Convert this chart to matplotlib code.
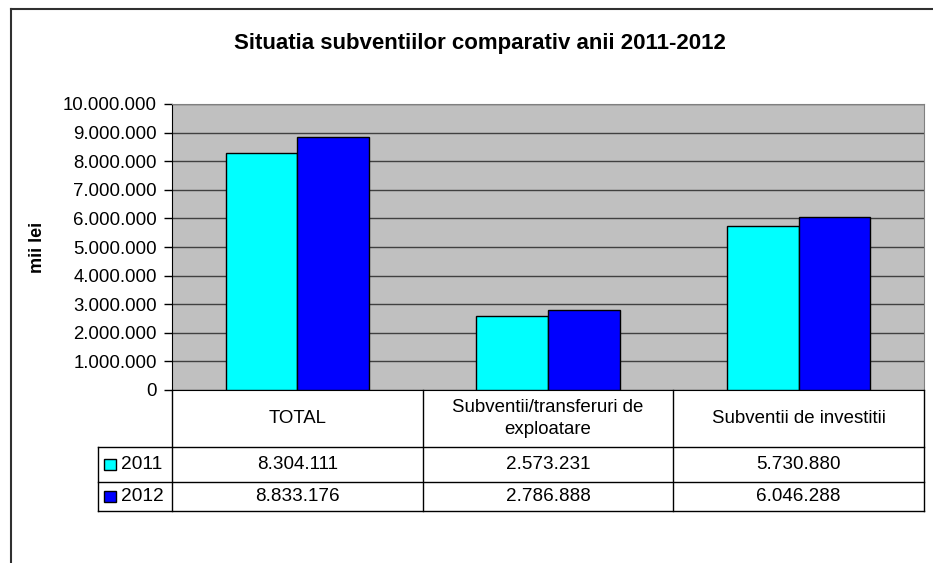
import matplotlib.pyplot as plt
from matplotlib.lines import Line2D
from matplotlib.patches import Rectangle

# Dati
categorii = ["TOTAL", "Subventii/transferuri de\nexploatare", "Subventii de investitii"]
ani = ["2011", "2012"]
val_2011 = [8304111, 2573231, 5730880]
val_2012 = [8833176, 2786888, 6046288]
culori = ["#00FFFF", "#0000FF"]
y_ticks = list(range(0, 10000001, 1000000))

plt.rcParams["font.family"] = ["Liberation Sans", "DejaVu Sans"]

W, H = 933, 563
fig = plt.figure(figsize=(W / 100, H / 100), dpi=100)


def fx(x):
    return x / W


def fy(y):
    return 1 - y / H


# Area del grafico (in pixel)
x0, x1, ytop, ybot = 172, 924, 104, 390
ax = fig.add_axes([fx(x0), fy(ybot), fx(x1 - x0), fy(ytop) - fy(ybot)])
ax.set_facecolor("#C0C0C0")

n = len(categorii)
bw = 1 / 3.5
for i, serie in enumerate([val_2011, val_2012]):
    pos = [k + (i - 0.5) * bw for k in range(n)]
    ax.bar(pos, serie, width=bw, color=culori[i], edgecolor="black",
           linewidth=1, zorder=3)

ax.set_xlim(-0.5, n - 0.5)
ax.set_ylim(0, 10000000)
ax.set_yticks(y_ticks)
ax.set_yticklabels([f"{v:,}".replace(",", ".") for v in y_ticks], fontsize=13.4)
ax.yaxis.grid(True, color="#404040", linewidth=1, zorder=1)
ax.set_xticks([])
ax.tick_params(axis="y", length=6, width=1, pad=5)
for s in ["top", "right"]:
    ax.spines[s].set_color("#808080")
ax.spines["left"].set_color("black")
ax.spines["bottom"].set_color("black")
ax.set_axisbelow(True)

# Titolo e etichetta asse
fig.text(fx(480), fy(43), "Situatia subventiilor comparativ anii 2011-2012",
         ha="center", va="center", fontsize=16, fontweight="bold")
fig.text(fx(38), fy(247), "mii lei", rotation=90, ha="center", va="center",
         fontsize=13, fontweight="bold")

# Cornice esterna
fig.add_artist(Line2D([fx(11), fx(11)], [fy(563), fy(9)], color="#303030", lw=1.5))
fig.add_artist(Line2D([fx(11), fx(933)], [fy(9), fy(9)], color="#303030", lw=1.5))

# Tabella dati
cols = [172, 423, 673, 924]
r_head, r1, r2, r3 = 390, 447, 482, 511
lab_x = 98


def hline(y, xa, xb):
    fig.add_artist(Line2D([fx(xa), fx(xb)], [fy(y), fy(y)], color="black", lw=1))


def vline(x, ya, yb):
    fig.add_artist(Line2D([fx(x), fx(x)], [fy(ya), fy(yb)], color="black", lw=1))


for y in [r1, r2, r3]:
    hline(y, lab_x, cols[-1])
for x in cols:
    vline(x, r_head, r3)
vline(lab_x, r1, r3)

for k, cat in enumerate(categorii):
    cx = (cols[k] + cols[k + 1]) / 2
    fig.text(fx(cx), fy((r_head + r1) / 2), cat, ha="center", va="center",
             fontsize=13.4, linespacing=1.45)
    for serie, ya, yb in [(val_2011, r1, r2), (val_2012, r2, r3)]:
        fig.text(fx(cx), fy((ya + yb) / 2), f"{serie[k]:,}".replace(",", "."),
                 ha="center", va="center", fontsize=13.6)

for j, (ya, yb) in enumerate([(r1, r2), (r2, r3)]):
    ym = (ya + yb) / 2
    fig.add_artist(Rectangle((fx(104), fy(ym + 5.5)), fx(11.5), fy(ym - 5.5) - fy(ym + 5.5),
                             facecolor=culori[j], edgecolor="black", lw=1))
    fig.text(fx(121), fy(ym), ani[j], ha="left", va="center", fontsize=13.8)

fig.savefig("out.png", dpi=100)
